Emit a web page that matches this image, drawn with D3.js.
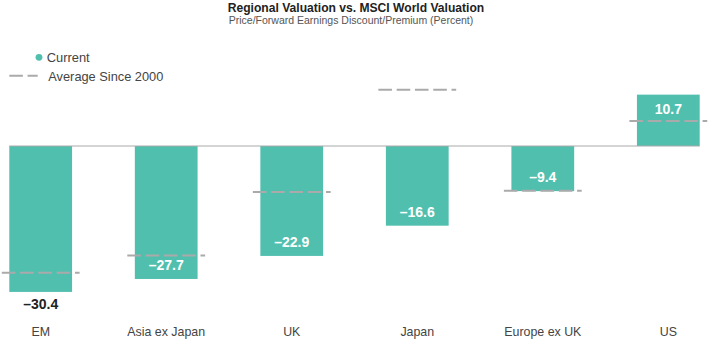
<!DOCTYPE html>
<html>
<head>
<meta charset="utf-8">
<script src="https://cdn.jsdelivr.net/npm/d3@7"></script>
<style>
  html, body { margin: 0; padding: 0; background: #fff; }
  svg { display: block; font-family: "Liberation Sans", Arial, sans-serif; }
</style>
</head>
<body>
<svg id="chart" width="710" height="341"></svg>
<script>
const categories = ["EM", "Asia ex Japan", "UK", "Japan", "Europe ex UK", "US"];
const current = [-30.4, -27.7, -22.9, -16.6, -9.4, 10.7];
const averageSince2000 = [-26.4, -22.8, -9.6, 11.7, -9.3, 5.2];
const legendLabels = ["Current", "Average Since 2000"];
const titleText = "Regional Valuation vs. MSCI World Valuation";
const subtitleText = "Price/Forward Earnings Discount/Premium (Percent)";

const W = 710, H = 341;
const barColor = "#50BFAE";
const dashColor = "#AAAAAA";
const dashArray = "13.6,4.7";

const svg = d3.select("#chart");

const x = d3.scaleBand().domain(categories).range([9.3, 699.7]).paddingInner(0.5).paddingOuter(0);
const y = d3.scaleLinear().domain([-35, 15]).range([314, 74]);

const fmt = v => (v < 0 ? "\u2013" : "") + d3.format(".1f")(Math.abs(v));

// Title
svg.append("text").attr("x", 356).attr("y", 11.5).attr("text-anchor", "middle")
  .attr("font-size", 12.1).attr("font-weight", "bold").attr("fill", "#222")
  .text(titleText);
svg.append("text").attr("x", 351).attr("y", 24).attr("text-anchor", "middle")
  .attr("font-size", 10.5).attr("fill", "#555")
  .text(subtitleText);

// Legend
svg.append("circle").attr("cx", 39).attr("cy", 57.3).attr("r", 3.4).attr("fill", barColor);
svg.append("text").attr("x", 46.7).attr("y", 62).attr("font-size", 12.9).attr("fill", "#444").text(legendLabels[0]);
svg.append("line").attr("x1", 9.3).attr("x2", 37.7).attr("y1", 75.7).attr("y2", 75.7)
  .attr("stroke", dashColor).attr("stroke-width", 2).attr("stroke-dasharray", dashArray);
svg.append("text").attr("x", 48.3).attr("y", 81).attr("font-size", 12.8).attr("fill", "#444").text(legendLabels[1]);

const data = categories.map((c, i) => ({ c, v: current[i], a: averageSince2000[i] }));
const minIdx = d3.minIndex(current);

// Bars
svg.append("g").selectAll("rect").data(data).join("rect")
  .attr("x", d => x(d.c))
  .attr("width", x.bandwidth())
  .attr("y", d => y(Math.max(0, d.v)))
  .attr("height", d => Math.abs(y(d.v) - y(0)))
  .attr("fill", barColor);

// Zero line
svg.append("line").attr("x1", x.range()[0]).attr("x2", x.range()[1])
  .attr("y1", y(0)).attr("y2", y(0)).attr("stroke", "#AAAAAA").attr("stroke-width", 1);

// Average dashes
const ext = x.bandwidth() * 0.12;
svg.append("g").selectAll("line").data(data).join("line")
  .attr("x1", d => x(d.c) - ext)
  .attr("x2", d => x(d.c) + x.bandwidth() + ext)
  .attr("y1", d => y(d.a)).attr("y2", d => y(d.a))
  .attr("stroke", dashColor).attr("stroke-width", 2).attr("stroke-dasharray", dashArray);

// Value labels
svg.append("g").selectAll("text").data(data).join("text")
  .attr("x", d => x(d.c) + x.bandwidth() / 2)
  .attr("y", (d, i) => {
    if (i === minIdx) return y(d.v) + 17;
    return d.v < 0 ? y(d.v) - 9 : y(d.v) + 19;
  })
  .attr("text-anchor", "middle")
  .attr("font-size", 14).attr("font-weight", "bold")
  .attr("fill", (d, i) => i === minIdx ? "#222" : "#fff")
  .text(d => fmt(d.v));

// Category axis labels
const xAxis = d3.axisBottom(x).tickSize(0).tickPadding(0);
const gx = svg.append("g").attr("transform", "translate(0,326)").call(xAxis);
gx.select(".domain").remove();
gx.selectAll("text").attr("font-size", 12.4).attr("fill", "#444")
  .attr("font-family", "\"Liberation Sans\", Arial, sans-serif").attr("dy", "0.8em");
</script>
</body>
</html>
